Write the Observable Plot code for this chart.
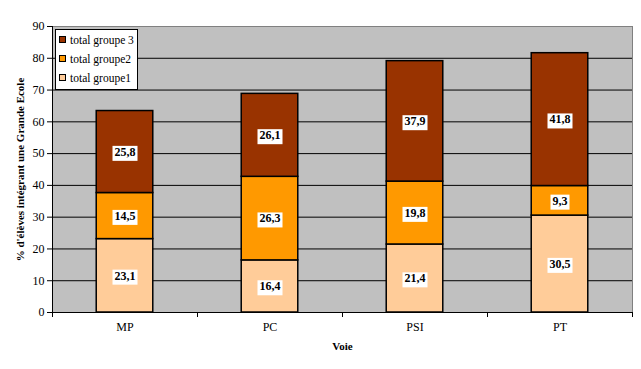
<!DOCTYPE html>
<html>
<head>
<meta charset="utf-8">
<script src="https://cdn.jsdelivr.net/npm/d3@7"></script>
<script src="https://cdn.jsdelivr.net/npm/@observablehq/plot@0.6"></script>
<style>
  body { margin: 0; background: #fff; }
  #wrap { position: relative; width: 641px; height: 369px; font-family: 'Liberation Serif', 'Times New Roman', serif; }
  #legend { position: absolute; left: 55px; top: 29px; width: 81px; height: 59px; border: 1px solid #000; background: #fff; font-size: 11.5px; font-family: 'Liberation Serif', serif; }
  .row { position: absolute; left: 3px; height: 14px; line-height: 14px; white-space: nowrap; font-family: 'Liberation Serif', serif; }
  .sw { display: inline-block; width: 5px; height: 5px; border: 1px solid #000; margin-right: 4px; vertical-align: 1px; }
</style>
</head>
<body>
<div id="wrap"></div>
<script>
const categories = ["MP", "PC", "PSI", "PT"];
const groupe1 = [23.1, 16.4, 21.4, 30.5];
const groupe2 = [14.5, 26.3, 19.8, 9.3];
const groupe3 = [25.8, 26.1, 37.9, 41.8];
const seriesNames = ["total groupe1", "total groupe2", "total groupe 3"];
const seriesColors = ["#FFCC99", "#FF9900", "#993300"];
const yTicks = [0, 10, 20, 30, 40, 50, 60, 70, 80, 90];
const yLabel = "% d'élèves intégrant une Grande Ecole";
const xLabel = "Voie";

// build stacked table
const seriesValues = [groupe1, groupe2, groupe3];
const rows = [];
categories.forEach((c, i) => {
  let base = 0;
  seriesValues.forEach((vals, s) => {
    rows.push({voie: c, i, serie: seriesNames[s], value: vals[i], y1: base, y2: base + vals[i]});
    base += vals[i];
  });
});
const fmt = v => v.toFixed(1).replace(".", ",");
const FONT = "'Liberation Serif', 'Times New Roman', serif";

const chart = Plot.plot({
  width: 641,
  height: 369,
  marginLeft: 52,
  marginRight: 9,
  marginTop: 26,
  marginBottom: 57,
  style: {fontFamily: FONT, fontSize: "12px", background: "transparent", color: "#000"},
  x: {domain: [0, categories.length], axis: null},
  y: {domain: [0, 90], axis: null},
  color: {domain: seriesNames, range: seriesColors},
  marks: [
    Plot.frame({fill: "#C0C0C0", stroke: "#808080"}),
    Plot.gridY({ticks: yTicks.filter(t => t > 0 && t < 90), stroke: "#000", strokeOpacity: 1, strokeWidth: 1}),
    Plot.rect(rows, {x1: d => d.i + 0.305, x2: d => d.i + 0.695, y1: "y1", y2: "y2", fill: "serie", stroke: "#000", strokeWidth: 1.5}),
    Plot.text(rows, {x: d => d.i + 0.5, y: d => (d.y1 + d.y2) / 2, text: d => fmt(d.value), fontWeight: "bold", fontSize: 12, fontFamily: FONT, fill: "#000"}),
    Plot.ruleX([0], {stroke: "#000"}),
    Plot.ruleY([0], {stroke: "#000"}),
    Plot.axisY({ticks: yTicks, tickSize: 5, tickPadding: 3, label: null, fontSize: 12, fontFamily: FONT}),
    Plot.axisX({ticks: d3.range(0, categories.length + 1), tickSize: 5, tickFormat: () => "", label: null}),
    Plot.axisX({ticks: categories.map((c, i) => i + 0.5), tickSize: 0, tickPadding: 10, tickFormat: d => categories[Math.floor(d)], label: null, fontSize: 12, fontFamily: FONT}),
    Plot.text([xLabel], {frameAnchor: "bottom", dy: 37, text: d => d, fontWeight: "bold", fontSize: 11, fontFamily: FONT}),
    Plot.text([yLabel], {frameAnchor: "left", textAnchor: "middle", dx: -32, rotate: -90, text: d => d, fontWeight: "bold", fontSize: 11, fontFamily: FONT})
  ]
});

const wrap = document.getElementById("wrap");
wrap.appendChild(chart);

// white boxes behind the value labels
const valueTexts = new Set(rows.map(d => fmt(d.value)));
d3.select(chart).selectAll("text").each(function() {
  if (!valueTexts.has(this.textContent.trim())) return;
  if (this.closest("g[aria-label*='axis']")) return;
  const bb = this.getBBox();
  const r = document.createElementNS("http://www.w3.org/2000/svg", "rect");
  r.setAttribute("x", bb.x - 2);
  r.setAttribute("y", bb.y + 1);
  r.setAttribute("width", bb.width + 4);
  r.setAttribute("height", bb.height + 1);
  r.setAttribute("fill", "#fff");
  const t = this.getAttribute("transform");
  if (t) r.setAttribute("transform", t);
  this.parentNode.insertBefore(r, this);
});

// legend
const legend = document.createElement("div");
legend.id = "legend";
const order = [2, 1, 0];
order.forEach((s, k) => {
  const row = document.createElement("div");
  row.className = "row";
  row.style.top = (3 + k * 19) + "px";
  const sw = document.createElement("span");
  sw.className = "sw";
  sw.style.background = seriesColors[s];
  row.appendChild(sw);
  row.appendChild(document.createTextNode(seriesNames[s]));
  legend.appendChild(row);
});
wrap.appendChild(legend);
</script>
</body>
</html>
